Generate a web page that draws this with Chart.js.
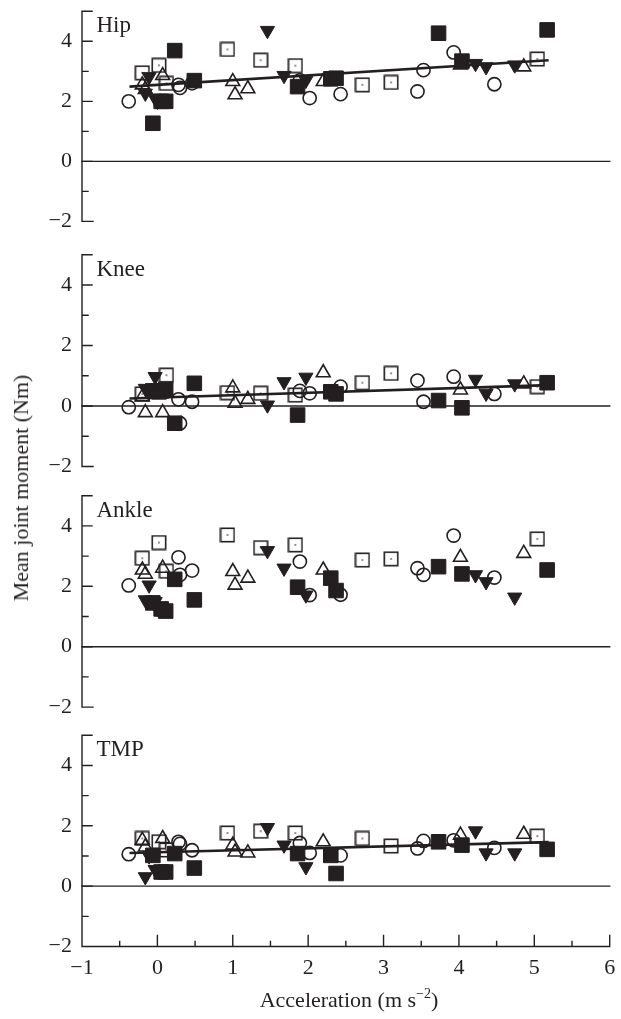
<!DOCTYPE html>
<html>
<head>
<meta charset="utf-8">
<script src="https://cdn.jsdelivr.net/npm/chart.js@4.4.1/dist/chart.umd.min.js"></script>
<style>
html,body{margin:0;padding:0;background:#fff;}
body{width:621px;height:1019px;position:relative;overflow:hidden;font-family:"Liberation Serif","Times New Roman",serif;color:#231f20;}
canvas{position:absolute;left:0;}
#ylab{position:absolute;left:21px;top:488px;transform:translate(-50%,-50%) rotate(-90deg);white-space:nowrap;font-size:22px;line-height:22px;}
#xlab{position:absolute;left:349px;top:1000px;transform:translate(-50%,-50%);white-space:nowrap;font-size:22px;line-height:22px;}
#xlab sup{font-size:14px;line-height:0;vertical-align:9px;}
</style>
</head>
<body>
<canvas id="c0"></canvas>
<canvas id="c1"></canvas>
<canvas id="c2"></canvas>
<canvas id="c3"></canvas>
<div id="ylab">Mean joint moment (Nm)</div>
<div id="xlab">Acceleration (m s<sup>&minus;2</sup>)</div>
<script>
// ---------- data ----------
const panelNames = ['Hip', 'Knee', 'Ankle', 'TMP'];
const xTicks = [-1, 0, 1, 2, 3, 4, 5, 6];
const yTicks = [-2, 0, 2, 4];

// open circles
const circleX     = [-0.38, 0.28, 0.30, 0.46, 1.89, 2.02, 2.43, 3.45, 3.53, 3.93, 4.47];
const circleHip   = [2.00, 2.55, 2.45, 2.60, 2.70, 2.11, 2.24, 2.33, 3.04, 3.63, 2.57];
const circleKnee  = [-0.04, 0.22, -0.57, 0.14, 0.50, 0.42, 0.64, 0.84, 0.14, 0.97, 0.40];
const circleAnkle = [2.03, 2.96, 2.38, 2.52, 2.82, 1.71, 1.72, 2.60, 2.38, 3.68, 2.29];
const circleTMP   = [1.06, 1.47, 1.40, 1.19, 1.43, 1.10, 1.02, 1.25, 1.50, 1.52, 1.27];

// open squares with centre dot
const dotSqX     = [-0.20, 0.02, 0.12, 0.93, 1.37, 1.83, 2.72, 3.10, 5.04];
const dotSqHip   = [2.95, 3.20, 2.60, 3.73, 3.37, 3.19, 2.55, 2.63, 3.41];
const dotSqKnee  = [0.40, 0.45, 1.02, 0.44, 0.42, 0.36, 0.77, 1.08, 0.64];
const dotSqAnkle = [2.93, 3.45, 2.50, 3.70, 3.28, 3.37, 2.87, 2.91, 3.57];
const dotSqTMP   = [1.58, 1.47, 1.20, 1.76, 1.82, 1.76, 1.58, 1.33, 1.66];

// open triangles (up)
const triUpX     = [-0.20, -0.16, 0.07, 1.00, 1.03, 1.20, 2.20, 4.02, 4.86];
const triUpHip   = [2.55, 2.40, 2.86, 2.66, 2.22, 2.42, 2.66, 3.21, 3.15];
const triUpKnee  = [0.30, -0.22, -0.22, 0.60, 0.09, 0.22, 1.10, 0.53, 0.73];
const triUpAnkle = [2.54, 2.40, 2.60, 2.49, 2.04, 2.27, 2.54, 2.96, 3.09];
const triUpTMP   = [1.52, 1.30, 1.58, 1.36, 1.13, 1.10, 1.47, 1.69, 1.72];

// filled triangles (down)
const triDnX     = [-0.16, -0.11, -0.03, 0.00, 1.46, 1.68, 1.97, 4.22, 4.36, 4.74];
const triDnHip   = [2.27, 2.82, 2.10, 2.00, 4.36, 2.86, 2.70, 3.26, 3.15, 3.21];
const triDnKnee  = [0.58, 0.45, 0.97, 0.50, 0.03, 0.80, 0.95, 0.88, 0.42, 0.73];
const triDnAnkle = [1.55, 2.04, 1.49, 1.27, 3.18, 2.60, 1.71, 2.38, 2.15, 1.64];
const triDnTMP   = [0.31, 1.00, 0.55, 0.50, 1.94, 1.36, 0.64, 1.83, 1.10, 1.10];

// filled squares
const fillSqX     = [-0.06, 0.05, 0.11, 0.23, 0.49, 1.86, 2.30, 2.37, 3.73, 4.04, 5.17];
const fillSqHip   = [1.27, 2.00, 2.00, 3.69, 2.69, 2.49, 2.75, 2.77, 4.27, 3.34, 4.38];
const fillSqKnee  = [0.50, 0.50, 0.55, -0.57, 0.75, -0.30, 0.47, 0.40, 0.18, -0.06, 0.77];
const fillSqAnkle = [1.45, 1.25, 1.18, 2.23, 1.55, 1.97, 2.27, 1.86, 2.65, 2.41, 2.54];
const fillSqTMP   = [1.02, 0.47, 0.47, 1.08, 0.60, 1.08, 1.02, 0.42, 1.47, 1.36, 1.22];

// regression lines (Ankle has none)
const fitX     = [-0.37, 5.19];
const fitHip   = [2.49, 3.37];
const fitKnee  = [0.25, 0.69];
const fitAnkle = null;
const fitTMP   = [1.10, 1.46];

// ---------- drawing ----------
const INK = '#231f20';
const FONT = '"Liberation Serif", "Times New Roman", serif';

function pts(xs, ys) { return xs.map((x, i) => ({x: x, y: ys[i]})); }
function fmt(v) { return v < 0 ? '\u2212' + Math.abs(v) : String(v); }
function noPad(s) { s.paddingTop = 0; s.paddingBottom = 0; s.paddingLeft = 0; s.paddingRight = 0; }

// dotted-square marker image
const dotSq = document.createElement('canvas');
dotSq.width = 16; dotSq.height = 16;
(function () {
  const c = dotSq.getContext('2d');
  c.strokeStyle = INK; c.lineWidth = 1.6;
  c.strokeRect(1.3, 1.3, 13.4, 13.4);
  c.fillStyle = INK; c.fillRect(7.3, 7.3, 1.4, 1.4);
})();

const decoPlugin = {
  id: 'panelDeco',
  beforeDatasetsDraw(chart, args, opts) {
    const {ctx} = chart;
    const x = chart.scales.x, y = chart.scales.y;
    const L = x.getPixelForValue(-1), R = x.getPixelForValue(6);
    const yTop = y.getPixelForValue(5), yBot = y.getPixelForValue(-2);
    ctx.save();
    ctx.strokeStyle = INK; ctx.lineWidth = 1.4; ctx.lineCap = 'square';
    ctx.beginPath();
    ctx.moveTo(L, yTop); ctx.lineTo(L, yBot);
    ctx.moveTo(L, yTop); ctx.lineTo(L + 10, yTop);
    for (let v = -1; v <= 4; v++) {
      const py = y.getPixelForValue(v);
      const len = (v % 2 === 0) ? 10 : 6;
      ctx.moveTo(L, py); ctx.lineTo(L + len, py);
    }
    if (opts.xAxis) {
      ctx.moveTo(L, yBot); ctx.lineTo(R, yBot);
      for (let v = -1; v <= 6.001; v += 0.5) {
        const px = x.getPixelForValue(v);
        const len = Number.isInteger(v) ? 11 : 5;
        ctx.moveTo(px, yBot); ctx.lineTo(px, yBot - len);
      }
    } else {
      ctx.moveTo(L, yBot); ctx.lineTo(L + 11, yBot);
    }
    ctx.stroke();
    const y0 = y.getPixelForValue(0);
    ctx.beginPath(); ctx.moveTo(L, y0); ctx.lineTo(R, y0); ctx.stroke();
    ctx.restore();
  },
  afterDraw(chart, args, opts) {
    const {ctx, chartArea: a} = chart;
    ctx.save();
    ctx.fillStyle = INK;
    ctx.font = '23px ' + FONT;
    ctx.textBaseline = 'alphabetic';
    ctx.textAlign = 'left';
    ctx.fillText(opts.title, a.left + 14.5, a.top + 21);
    ctx.restore();
  }
};

const panels = [
  {id: 'c0', top: 0,   h: 237, padTop: 9.0,   padBottom: 15.6, name: panelNames[0],
   c: circleHip, d: dotSqHip, u: triUpHip, n: triDnHip, f: fillSqHip, fit: fitHip},
  {id: 'c1', top: 240, h: 240, padTop: 14.75, padBottom: 13.5, name: panelNames[1],
   c: circleKnee, d: dotSqKnee, u: triUpKnee, n: triDnKnee, f: fillSqKnee, fit: fitKnee},
  {id: 'c2', top: 482, h: 240, padTop: 13.7,  padBottom: 14.9, name: panelNames[2],
   c: circleAnkle, d: dotSqAnkle, u: triUpAnkle, n: triDnAnkle, f: fillSqAnkle, fit: fitAnkle},
  {id: 'c3', top: 724, h: 295, padTop: 10.75, padBottom: 0, name: panelNames[3], xAxis: true,
   c: circleTMP, d: dotSqTMP, u: triUpTMP, n: triDnTMP, f: fillSqTMP, fit: fitTMP}
];

panels.forEach(p => {
  const cv = document.getElementById(p.id);
  cv.width = 621; cv.height = p.h;
  cv.style.width = '621px'; cv.style.height = p.h + 'px'; cv.style.top = p.top + 'px';

  const datasets = [];
  if (p.fit) {
    datasets.push({data: pts(fitX, p.fit), showLine: true, pointRadius: 0, borderColor: INK,
      borderWidth: 2.6, order: 10, clip: false});
  }
  datasets.push({data: pts(circleX, p.c), pointStyle: 'circle', pointRadius: 6.6, pointBorderWidth: 1.6,
    pointBackgroundColor: 'rgba(0,0,0,0)', pointBorderColor: INK, order: 5, clip: false});
  datasets.push({data: pts(dotSqX, p.d), pointStyle: dotSq, pointRadius: 8, order: 4, clip: false});
  datasets.push({data: pts(triUpX, p.u), pointStyle: 'triangle', pointRadius: 8, pointBorderWidth: 1.6,
    pointBackgroundColor: 'rgba(0,0,0,0)', pointBorderColor: INK, order: 3, clip: false});
  datasets.push({data: pts(triDnX, p.n), pointStyle: 'triangle', pointRotation: 180, pointRadius: 8.2,
    pointBorderWidth: 1, pointBackgroundColor: INK, pointBorderColor: INK, order: 2, clip: false});
  datasets.push({data: pts(fillSqX, p.f), pointStyle: 'rect', pointRadius: 10.3, pointBorderWidth: 1,
    pointBackgroundColor: INK, pointBorderColor: INK, order: 1, clip: false});

  const showX = !!p.xAxis;
  new Chart(cv, {
    type: 'scatter',
    data: {datasets: datasets},
    options: {
      responsive: false, animation: false, events: [],
      layout: {padding: {top: p.padTop, bottom: p.padBottom, left: 0, right: 5.7}},
      plugins: {legend: {display: false}, tooltip: {enabled: false},
        panelDeco: {title: p.name, xAxis: showX}},
      scales: {
        x: {
          type: 'linear', min: -1, max: 6, display: showX,
          grid: {display: false, drawTicks: false}, border: {display: false},
          ticks: {stepSize: 1, autoSkip: false, maxRotation: 0, padding: 8.5, color: INK,
            font: {family: FONT, size: 22},
            callback: v => xTicks.includes(v) ? fmt(v) : ''},
          afterFit: s => { s.height = showX ? 72.5 : 0; noPad(s); }
        },
        y: {
          type: 'linear', min: -2, max: 5,
          grid: {display: false, drawTicks: false}, border: {display: false},
          ticks: {stepSize: 1, autoSkip: false, padding: 10, color: INK,
            font: {family: FONT, size: 22},
            callback: v => yTicks.includes(v) ? fmt(v) : ''},
          afterFit: s => { s.width = 82; noPad(s); }
        }
      }
    },
    plugins: [decoPlugin]
  });
});
</script>
</body>
</html>
